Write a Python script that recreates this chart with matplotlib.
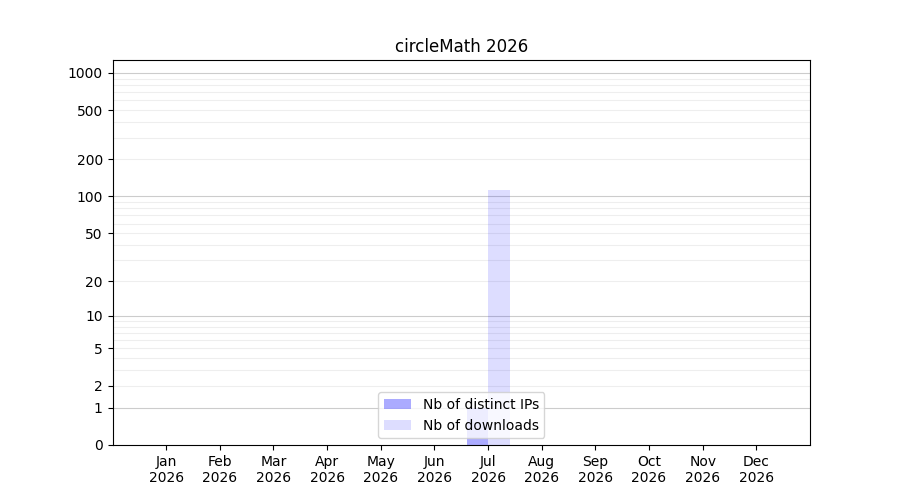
import numpy as np
import matplotlib
matplotlib.use("Agg")
import matplotlib.pyplot as plt

months = ["Jan", "Feb", "Mar", "Apr", "May", "Jun", "Jul", "Aug", "Sep", "Oct", "Nov", "Dec"]
year = "2026"
distinct_ips = [0, 0, 0, 0, 0, 0, 1, 0, 0, 0, 0, 0]
downloads = [0, 0, 0, 0, 0, 0, 113, 0, 0, 0, 0, 0]
major_ticks = [0, 1, 2, 5, 10, 20, 50, 100, 200, 500, 1000]
decade_lines = [1, 10, 100, 1000]
light_lines = [m * d for d in [1, 10, 100] for m in range(2, 10)]


def fwd(x):
    x = np.asarray(x, dtype=float)
    return np.log10(1 + np.clip(x, 0, None))


def inv(y):
    y = np.asarray(y, dtype=float)
    return 10 ** y - 1


fig = plt.figure(figsize=(9, 5), dpi=100)
ax = fig.add_subplot(111)
x = np.arange(1, len(months) + 1)
w = 0.4
ax.bar(x - w / 2, distinct_ips, width=w, color=(0, 0, 1, 0.33), label="Nb of distinct IPs", zorder=2)
ax.bar(x + w / 2, downloads, width=w, color=(0, 0, 1, 0.135), label="Nb of downloads", zorder=2)

ax.set_yscale("function", functions=(fwd, inv))
ax.set_ylim(0, 1270)
ax.set_xlim(0, 13)
ax.set_yticks(major_ticks)
ax.set_yticklabels([str(v) for v in major_ticks])
ax.yaxis.set_minor_locator(matplotlib.ticker.NullLocator())
for v in light_lines:
    ax.axhline(v, color="#eeeeee", linewidth=0.8, zorder=0.5)
for v in decade_lines:
    ax.axhline(v, color="#cccccc", linewidth=0.8, zorder=0.6)
ax.set_xticks(x)
ax.set_xticklabels([f"{m}\n{year}" for m in months])
ax.set_title("circleMath 2026")
ax.legend(loc="lower center")
fig.savefig("out.png", dpi=100)
